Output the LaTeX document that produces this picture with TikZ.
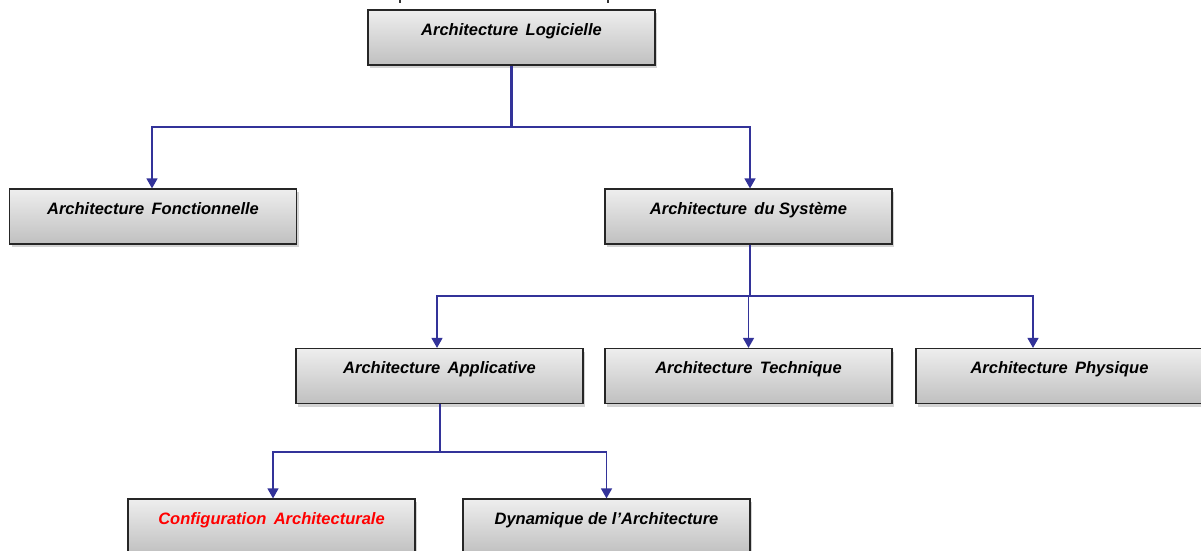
\documentclass[tikz,border=0pt]{standalone}
\usepackage{fontspec}
\setmainfont{Liberation Sans}
\usetikzlibrary{arrows.meta,shadows}
\definecolor{linkblue}{HTML}{333399}
\definecolor{boxtop}{HTML}{EEEEEE}
\definecolor{boxbot}{HTML}{C0C0C0}

\tikzset{
  archbox/.style={draw=black!85, line width=1.2pt, rectangle,
    top color=boxtop, bottom color=boxbot,
    minimum width=287pt, minimum height=55pt, inner sep=4pt,
    text height=21pt, text depth=26pt,
    font=\fontsize{16.5}{17}\selectfont\bfseries\itshape,
    drop shadow={shadow xshift=2pt, shadow yshift=-3pt, opacity=0.35}},
  link/.style={linkblue, line width=1.4pt},
  trunk/.style={linkblue, line width=2.2pt},
  arrowlink/.style={link, -{Triangle[width=11pt,length=10pt]}}
}

\begin{document}
\begin{tikzpicture}[x=1pt, y=-1pt]
    \useasboundingbox (0,0) rectangle (1201,550);
    % small marks at the top edge
    \draw[black!80, line width=2pt] (400,0) -- (400,3);
    \draw[black!80, line width=2pt] (608,0) -- (608,3);

    % boxes
    \node[archbox] (logi) at (511.5,37.5) {Architecture\, Logicielle};
    \node[archbox] (fonc) at (153,216.5) {Architecture\, Fonctionnelle};
    \node[archbox] (syst) at (748.5,216.5) {Architecture\, du Système};
    \node[archbox] (appl) at (439.5,376) {Architecture\, Applicative};
    \node[archbox] (tech) at (748.5,376) {Architecture\, Technique};
    \node[archbox] (phys) at (1059.5,376) {Architecture\, Physique};
    \node[archbox, text=red] (conf) at (271.5,526.5) {Configuration\, Architecturale};
    \node[archbox] (dyna) at (606.5,526.5) {Dynamique de l’Architecture};

    % connectors
    \coordinate (j1) at (511.5,127);
    \coordinate (j2) at (750,296);
    \coordinate (j3) at (440,452);
    \draw[trunk] (logi.south) -- (j1);
    \draw[arrowlink] (j1) -| ([xshift=-1pt]fonc.north);
    \draw[arrowlink] (j1) -| ([xshift=1.5pt]syst.north);
    \draw[trunk] ([xshift=1.5pt]syst.south) -- (j2);
    \draw[arrowlink] (j2) -| ([xshift=-2.5pt]appl.north);
    \draw[arrowlink] (j2) -| (tech.north);
    \draw[arrowlink] (j2) -| ([xshift=-26.5pt]phys.north);
    \draw[link] ([xshift=0.5pt]appl.south) -- (j3);
    \draw[arrowlink] (j3) -| ([xshift=1.5pt]conf.north);
    \draw[arrowlink] (j3) -| (dyna.north);
  \end{tikzpicture}
\end{document}
